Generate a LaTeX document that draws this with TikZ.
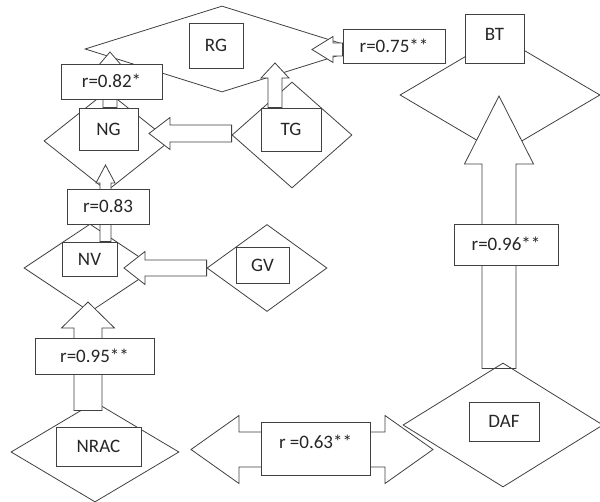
\documentclass[tikz,border=0pt]{standalone}
\usepackage{fontspec}
\setmainfont{Carlito}
\usetikzlibrary{shapes.geometric,calc}
\pgfdeclarelayer{back}
\pgfdeclarelayer{mid}
\pgfsetlayers{back,mid,main}

% outlined block arrow: tail, tip, half shaft, half head, head length
\newcommand{\blockarrow}[5]{%
  \coordinate (ba_a) at (#1);
  \coordinate (ba_b) at (#2);
  \coordinate (ba_h) at ($(ba_b)!#5!(ba_a)$);
  \draw[arrowbody] ($(ba_a)!#3!90:(ba_b)$) -- ($(ba_h)!#3!90:(ba_b)$) -- ($(ba_h)!#4!90:(ba_b)$)
    -- (ba_b) -- ($(ba_h)!#4!-90:(ba_b)$) -- ($(ba_h)!#3!-90:(ba_b)$) -- ($(ba_a)!#3!-90:(ba_b)$) -- cycle;
}
% outlined arrow with a head at both ends
\newcommand{\dblarrow}[5]{%
  \coordinate (da_l) at (#1);
  \coordinate (da_r) at (#2);
  \coordinate (da_hl) at ($(da_l)!#5!(da_r)$);
  \coordinate (da_hr) at ($(da_r)!#5!(da_l)$);
  \draw[arrowbody] (da_l) -- ($(da_hl)!#4!90:(da_r)$) -- ($(da_hl)!#3!90:(da_r)$) -- ($(da_hr)!#3!90:(da_r)$)
    -- ($(da_hr)!#4!90:(da_r)$) -- (da_r) -- ($(da_hr)!#4!-90:(da_r)$) -- ($(da_hr)!#3!-90:(da_r)$)
    -- ($(da_hl)!#3!-90:(da_r)$) -- ($(da_hl)!#4!-90:(da_r)$) -- cycle;
}

\begin{document}
\begin{tikzpicture}[x=1pt,y=-1pt,
    dia/.style={diamond, draw=black!75, line width=0.8pt, inner sep=0pt},
    box/.style={rectangle, draw=black!75, fill=white, line width=0.8pt, inner sep=0pt,
      text=black!85, text height=13pt, text depth=0pt, font=\fontsize{19}{22}\selectfont},
    arrowbody/.style={draw=black!75, fill=white, line width=0.8pt, line join=miter}]
    \useasboundingbox (0,0) rectangle (600,502);

    % diamonds
    \begin{pgfonlayer}{back}
    \node[dia, minimum width=274pt, minimum height=86pt] (d_RG) at (222,49) {};
    \node[dia, minimum width=126pt, minimum height=100pt] (d_NG) at (107,141) {};
    \node[dia, minimum width=120pt, minimum height=106pt] (d_TG) at (292,135) {};
    \node[dia, minimum width=200pt, minimum height=118pt] (d_BT) at (500,95) {};
    \node[dia, minimum width=132pt, minimum height=88pt] (d_NV) at (90,268) {};
    \node[dia, minimum width=120pt, minimum height=87pt] (d_GV) at (267,268) {};
    \node[dia, minimum width=168pt, minimum height=100pt] (d_NRAC) at (95,452) {};
    \end{pgfonlayer}
    \node[dia, minimum width=200pt, minimum height=124pt] (d_DAF) at (503,425) {};

    % correlation boxes
    \node[box, minimum width=102pt, minimum height=34pt] (r_75) at (394,46) {r=0.75**};
    \node[box, minimum width=101pt, minimum height=35pt] (r_82) at (111.5,81.5) {r=0.82*};
    \node[box, minimum width=82pt, minimum height=35pt] (r_83) at (108,206.5) {r=0.83};
    \node[box, minimum width=119pt, minimum height=36pt] (r_95) at (94.5,356) {r=0.95**};
    \node[box, minimum width=104pt, minimum height=41pt] (r_96) at (506,244.5) {r=0.96**};
    \node[box, minimum width=109pt, minimum height=53pt, text depth=13pt] (r_63) at (315.5,448.5) {r =0.63**};

    % trait boxes
    \node[box, minimum width=54pt, minimum height=45pt] (RG) at (216,45.5) {RG};
    \node[box, minimum width=59pt, minimum height=42pt] (NG) at (108.5,129) {NG};
    \node[box, minimum width=60pt, minimum height=43pt] (TG) at (291,129.5) {TG};
    \node[box, minimum width=59pt, minimum height=49pt, text depth=9pt] (BT) at (494.5,38.5) {BT};
    \node[box, minimum width=55pt, minimum height=34pt] (NV) at (89.5,259) {NV};
    \node[box, minimum width=53pt, minimum height=36pt] (GV) at (262.5,265) {GV};
    \node[box, minimum width=85pt, minimum height=39pt] (NRAC) at (98.5,446.5) {NRAC};
    \node[box, minimum width=70pt, minimum height=39pt] (DAF) at (504,421.5) {DAF};

    % arrow tips
    \coordinate (RG_in) at (312,49.5);
    \coordinate (RG_up) at (275,63);
    \coordinate (NG_up) at (110,52);
    \coordinate (NG_in) at (149,133.5);
    \coordinate (NG_low) at (105.5,165);
    \coordinate (NV_in) at (124,268);
    \coordinate (NV_low) at (88,302);
    \coordinate (BT_in) at (499,96);
    \coordinate (NRAC_pt) at (191,449.5);
    \coordinate (DAF_pt) at (433,449.5);

    % arrows, between the diamonds and the boxes
    \begin{pgfonlayer}{mid}
    \blockarrow{r_75.west |- RG_in}{RG_in}{6.5pt}{13pt}{21pt}
    \blockarrow{NG_up |- NG.north}{NG_up}{7pt}{12pt}{14pt}
    \blockarrow{d_TG.west |- NG_in}{NG_in}{8.5pt}{16pt}{21pt}
    \blockarrow{RG_up |- TG.north}{RG_up}{7pt}{14pt}{15pt}
    \blockarrow{NG_low |- NV.north}{NG_low}{5.5pt}{9.5pt}{18pt}
    \blockarrow{d_GV.west |- NV_in}{NV_in}{8pt}{16.5pt}{21pt}
    \blockarrow{$(NV_low |- d_NRAC.north)+(0,9)$}{NV_low}{14pt}{26.5pt}{26pt}
    \blockarrow{$(BT_in |- d_DAF.north)+(0,6)$}{BT_in}{17pt}{34.5pt}{68pt}
    \dblarrow{NRAC_pt}{DAF_pt}{17.5pt}{34pt}{48pt}
    \end{pgfonlayer}
\end{tikzpicture}
\end{document}
